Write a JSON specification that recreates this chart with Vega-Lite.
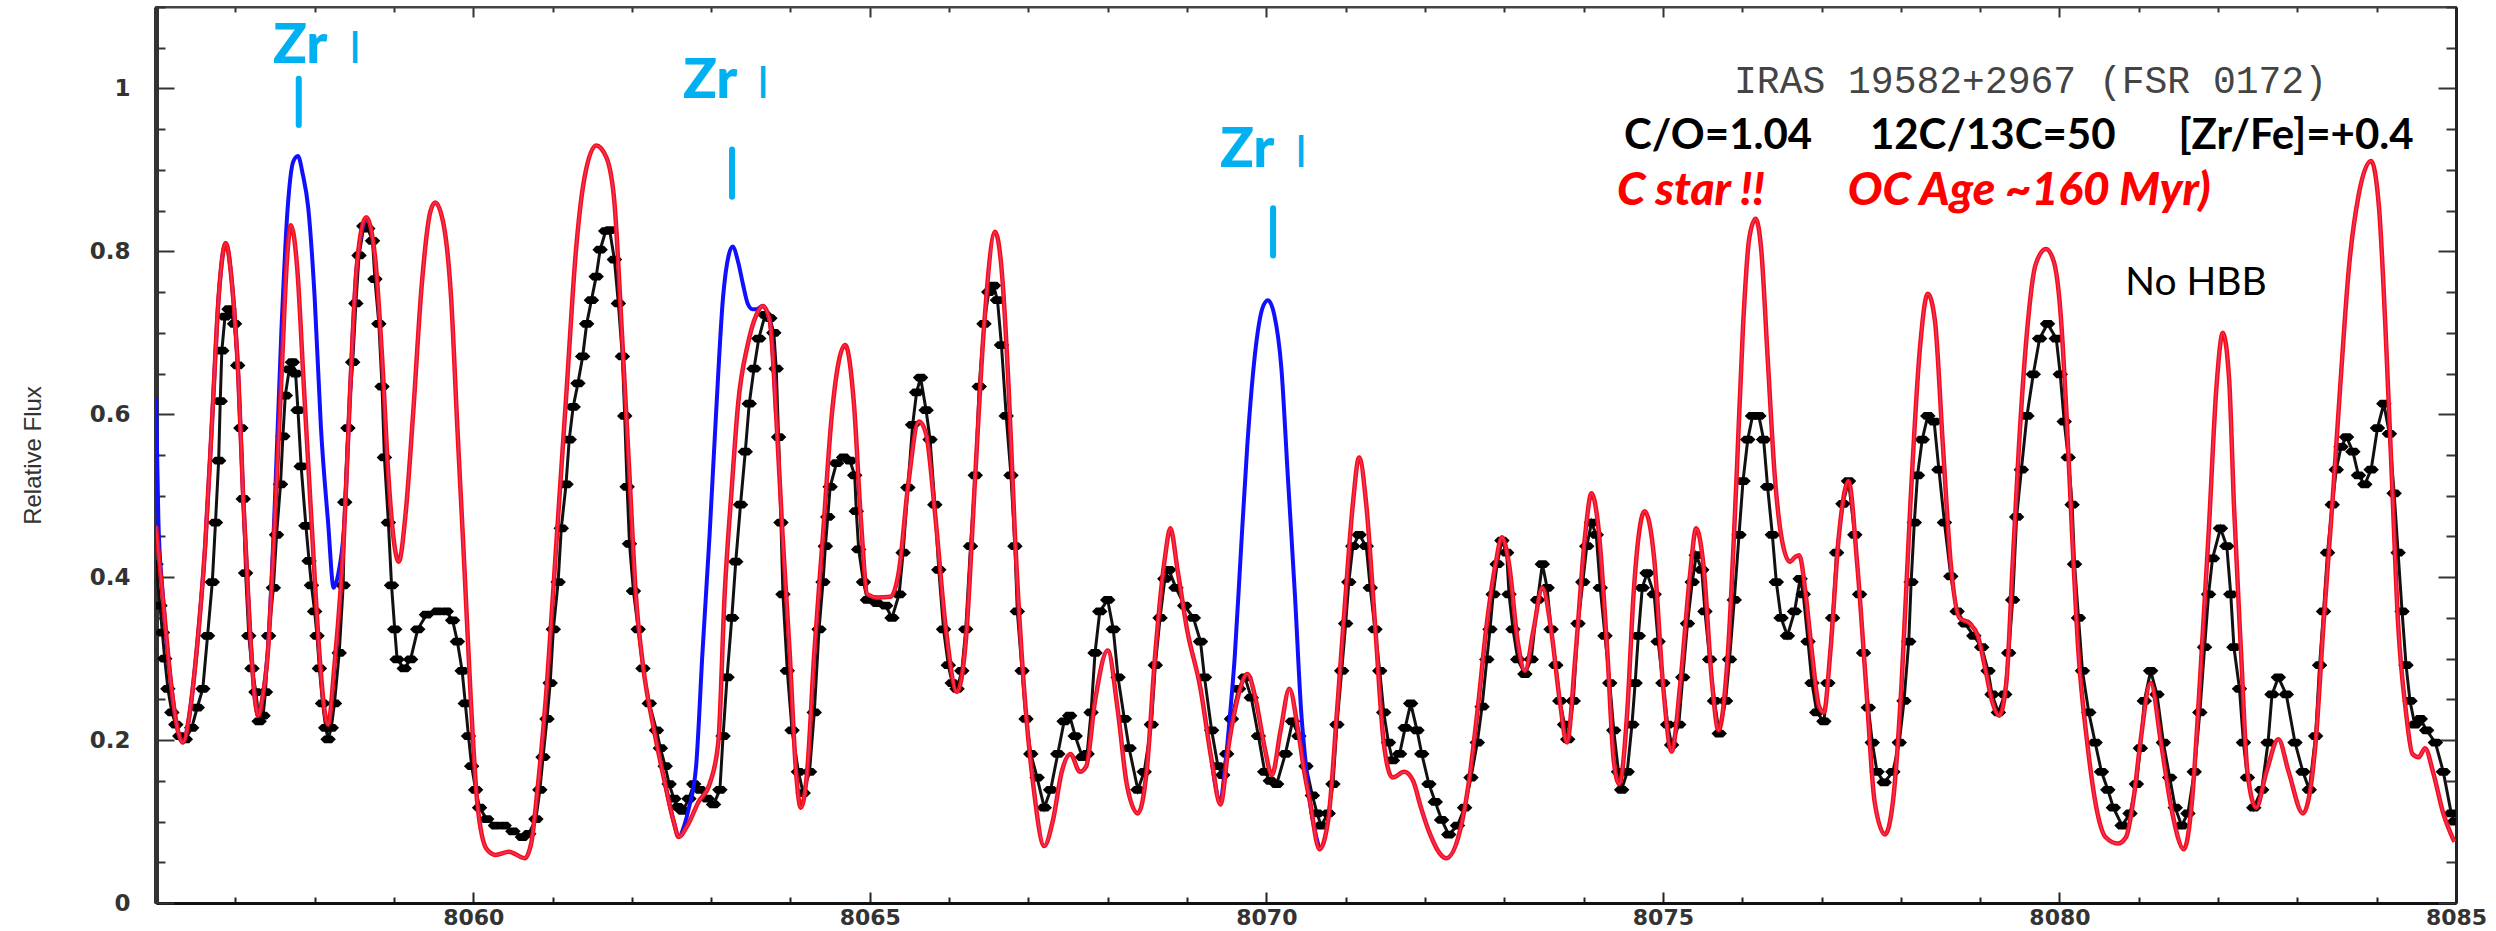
{
  "$schema": "https://vega.github.io/schema/vega-lite/v6.json",
  "width": 2300,
  "height": 896,
  "autosize": {"type": "none"},
  "padding": {"left": 156, "top": 7, "right": 40, "bottom": 28},
  "background": "white",
  "view": {"stroke": "#444", "strokeWidth": 2},
  "datasets": {
    "obs": [
      {"w":8056.00,"f":0.416},{"w":8056.05,"f":0.365},{"w":8056.08,"f":0.332},{"w":8056.11,"f":0.300},{"w":8056.15,"f":0.263},{"w":8056.20,"f":0.234},{"w":8056.25,"f":0.219},{"w":8056.30,"f":0.205},{"w":8056.37,"f":0.201},{"w":8056.45,"f":0.215},{"w":8056.52,"f":0.240},{"w":8056.59,"f":0.263},{"w":8056.65,"f":0.328},{"w":8056.71,"f":0.394},{"w":8056.75,"f":0.467},{"w":8056.79,"f":0.543},{"w":8056.81,"f":0.616},{"w":8056.83,"f":0.678},{"w":8056.87,"f":0.720},{"w":8056.92,"f":0.729},{"w":8056.99,"f":0.711},{"w":8057.03,"f":0.660},{"w":8057.07,"f":0.583},{"w":8057.10,"f":0.496},{"w":8057.13,"f":0.405},{"w":8057.17,"f":0.328},{"w":8057.21,"f":0.288},{"w":8057.26,"f":0.259},{"w":8057.30,"f":0.223},{"w":8057.35,"f":0.230},{"w":8057.38,"f":0.259},{"w":8057.42,"f":0.328},{"w":8057.48,"f":0.387},{"w":8057.52,"f":0.452},{"w":8057.57,"f":0.514},{"w":8057.60,"f":0.573},{"w":8057.63,"f":0.623},{"w":8057.68,"f":0.655},{"w":8057.72,"f":0.664},{"w":8057.76,"f":0.650},{"w":8057.79,"f":0.605},{"w":8057.83,"f":0.536},{"w":8057.89,"f":0.463},{"w":8057.93,"f":0.420},{"w":8057.96,"f":0.390},{"w":8058.00,"f":0.358},{"w":8058.03,"f":0.328},{"w":8058.06,"f":0.288},{"w":8058.10,"f":0.245},{"w":8058.14,"f":0.215},{"w":8058.17,"f":0.201},{"w":8058.21,"f":0.215},{"w":8058.25,"f":0.245},{"w":8058.31,"f":0.307},{"w":8058.36,"f":0.390},{"w":8058.38,"f":0.492},{"w":8058.42,"f":0.583},{"w":8058.48,"f":0.664},{"w":8058.52,"f":0.736},{"w":8058.56,"f":0.795},{"w":8058.62,"f":0.831},{"w":8058.67,"f":0.828},{"w":8058.73,"f":0.813},{"w":8058.76,"f":0.766},{"w":8058.81,"f":0.711},{"w":8058.85,"f":0.634},{"w":8058.88,"f":0.547},{"w":8058.93,"f":0.467},{"w":8058.97,"f":0.390},{"w":8059.01,"f":0.336},{"w":8059.04,"f":0.299},{"w":8059.13,"f":0.288},{"w":8059.21,"f":0.299},{"w":8059.30,"f":0.336},{"w":8059.41,"f":0.354},{"w":8059.55,"f":0.358},{"w":8059.66,"f":0.358},{"w":8059.74,"f":0.347},{"w":8059.80,"f":0.321},{"w":8059.86,"f":0.285},{"w":8059.90,"f":0.245},{"w":8059.94,"f":0.205},{"w":8059.98,"f":0.168},{"w":8060.03,"f":0.139},{"w":8060.08,"f":0.117},{"w":8060.17,"f":0.103},{"w":8060.28,"f":0.095},{"w":8060.39,"f":0.095},{"w":8060.50,"f":0.088},{"w":8060.62,"f":0.081},{"w":8060.70,"f":0.085},{"w":8060.79,"f":0.103},{"w":8060.84,"f":0.139},{"w":8060.88,"f":0.179},{"w":8060.93,"f":0.226},{"w":8060.97,"f":0.270},{"w":8061.01,"f":0.336},{"w":8061.07,"f":0.394},{"w":8061.11,"f":0.460},{"w":8061.17,"f":0.514},{"w":8061.21,"f":0.569},{"w":8061.26,"f":0.609},{"w":8061.32,"f":0.638},{"w":8061.38,"f":0.671},{"w":8061.43,"f":0.711},{"w":8061.49,"f":0.740},{"w":8061.55,"f":0.769},{"w":8061.60,"f":0.802},{"w":8061.67,"f":0.825},{"w":8061.72,"f":0.826},{"w":8061.78,"f":0.790},{"w":8061.83,"f":0.736},{"w":8061.88,"f":0.671},{"w":8061.91,"f":0.598},{"w":8061.94,"f":0.511},{"w":8061.97,"f":0.441},{"w":8062.02,"f":0.383},{"w":8062.08,"f":0.336},{"w":8062.14,"f":0.288},{"w":8062.22,"f":0.245},{"w":8062.31,"f":0.212},{"w":8062.36,"f":0.190},{"w":8062.42,"f":0.168},{"w":8062.47,"f":0.146},{"w":8062.53,"f":0.128},{"w":8062.58,"f":0.118},{"w":8062.64,"f":0.113},{"w":8062.72,"f":0.128},{"w":8062.78,"f":0.146},{"w":8062.86,"f":0.139},{"w":8062.95,"f":0.128},{"w":8063.03,"f":0.121},{"w":8063.11,"f":0.139},{"w":8063.15,"f":0.205},{"w":8063.20,"f":0.277},{"w":8063.26,"f":0.350},{"w":8063.31,"f":0.419},{"w":8063.37,"f":0.489},{"w":8063.43,"f":0.554},{"w":8063.48,"f":0.613},{"w":8063.54,"f":0.656},{"w":8063.60,"f":0.693},{"w":8063.68,"f":0.722},{"w":8063.74,"f":0.718},{"w":8063.79,"f":0.700},{"w":8063.82,"f":0.656},{"w":8063.85,"f":0.572},{"w":8063.88,"f":0.467},{"w":8063.905,"f":0.379},{"w":8063.96,"f":0.285},{"w":8064.02,"f":0.212},{"w":8064.10,"f":0.161},{"w":8064.16,"f":0.135},{"w":8064.24,"f":0.161},{"w":8064.30,"f":0.234},{"w":8064.36,"f":0.336},{"w":8064.41,"f":0.394},{"w":8064.44,"f":0.438},{"w":8064.47,"f":0.474},{"w":8064.50,"f":0.511},{"w":8064.58,"f":0.540},{"w":8064.67,"f":0.547},{"w":8064.75,"f":0.543},{"w":8064.81,"f":0.525},{"w":8064.83,"f":0.481},{"w":8064.86,"f":0.434},{"w":8064.92,"f":0.394},{"w":8064.97,"f":0.372},{"w":8065.09,"f":0.368},{"w":8065.20,"f":0.365},{"w":8065.28,"f":0.350},{"w":8065.37,"f":0.379},{"w":8065.42,"f":0.430},{"w":8065.48,"f":0.510},{"w":8065.54,"f":0.587},{"w":8065.59,"f":0.627},{"w":8065.64,"f":0.645},{"w":8065.71,"f":0.605},{"w":8065.76,"f":0.569},{"w":8065.82,"f":0.489},{"w":8065.87,"f":0.409},{"w":8065.93,"f":0.336},{"w":8065.99,"f":0.292},{"w":8066.04,"f":0.270},{"w":8066.10,"f":0.263},{"w":8066.16,"f":0.285},{"w":8066.21,"f":0.336},{"w":8066.27,"f":0.438},{"w":8066.33,"f":0.525},{"w":8066.38,"f":0.634},{"w":8066.44,"f":0.711},{"w":8066.50,"f":0.750},{"w":8066.56,"f":0.758},{"w":8066.61,"f":0.740},{"w":8066.66,"f":0.685},{"w":8066.72,"f":0.598},{"w":8066.78,"f":0.525},{"w":8066.83,"f":0.438},{"w":8066.86,"f":0.358},{"w":8066.92,"f":0.285},{"w":8066.97,"f":0.226},{"w":8067.03,"f":0.183},{"w":8067.11,"f":0.154},{"w":8067.20,"f":0.117},{"w":8067.28,"f":0.139},{"w":8067.37,"f":0.183},{"w":8067.45,"f":0.223},{"w":8067.52,"f":0.230},{"w":8067.59,"f":0.205},{"w":8067.68,"f":0.179},{"w":8067.74,"f":0.183},{"w":8067.79,"f":0.234},{"w":8067.84,"f":0.307},{"w":8067.90,"f":0.358},{"w":8068.00,"f":0.372},{"w":8068.07,"f":0.336},{"w":8068.13,"f":0.277},{"w":8068.21,"f":0.226},{"w":8068.27,"f":0.190},{"w":8068.38,"f":0.139},{"w":8068.46,"f":0.161},{"w":8068.55,"f":0.219},{"w":8068.60,"f":0.292},{"w":8068.66,"f":0.350},{"w":8068.72,"f":0.398},{"w":8068.77,"f":0.409},{"w":8068.86,"f":0.387},{"w":8068.97,"f":0.365},{"w":8069.08,"f":0.350},{"w":8069.17,"f":0.321},{"w":8069.22,"f":0.277},{"w":8069.31,"f":0.212},{"w":8069.39,"f":0.168},{"w":8069.45,"f":0.157},{"w":8069.50,"f":0.183},{"w":8069.56,"f":0.226},{"w":8069.65,"f":0.263},{"w":8069.73,"f":0.277},{"w":8069.81,"f":0.252},{"w":8069.90,"f":0.205},{"w":8069.98,"f":0.161},{"w":8070.05,"f":0.150},{"w":8070.13,"f":0.146},{"w":8070.24,"f":0.183},{"w":8070.33,"f":0.223},{"w":8070.41,"f":0.205},{"w":8070.50,"f":0.168},{"w":8070.58,"f":0.132},{"w":8070.64,"f":0.110},{"w":8070.69,"f":0.095},{"w":8070.78,"f":0.110},{"w":8070.84,"f":0.146},{"w":8070.89,"f":0.219},{"w":8070.95,"f":0.285},{"w":8071.00,"f":0.343},{"w":8071.04,"f":0.394},{"w":8071.09,"f":0.438},{"w":8071.17,"f":0.452},{"w":8071.26,"f":0.438},{"w":8071.31,"f":0.387},{"w":8071.37,"f":0.336},{"w":8071.43,"f":0.285},{"w":8071.48,"f":0.234},{"w":8071.54,"f":0.197},{"w":8071.59,"f":0.175},{"w":8071.68,"f":0.183},{"w":8071.75,"f":0.215},{"w":8071.82,"f":0.245},{"w":8071.90,"f":0.212},{"w":8071.96,"f":0.183},{"w":8072.05,"f":0.146},{"w":8072.13,"f":0.124},{"w":8072.21,"f":0.102},{"w":8072.30,"f":0.084},{"w":8072.41,"f":0.095},{"w":8072.50,"f":0.117},{"w":8072.58,"f":0.154},{"w":8072.66,"f":0.197},{"w":8072.72,"f":0.241},{"w":8072.78,"f":0.299},{"w":8072.82,"f":0.336},{"w":8072.86,"f":0.379},{"w":8072.91,"f":0.416},{"w":8072.97,"f":0.445},{"w":8073.03,"f":0.430},{"w":8073.06,"f":0.379},{"w":8073.11,"f":0.336},{"w":8073.17,"f":0.299},{"w":8073.26,"f":0.281},{"w":8073.34,"f":0.299},{"w":8073.42,"f":0.372},{"w":8073.48,"f":0.416},{"w":8073.54,"f":0.387},{"w":8073.59,"f":0.336},{"w":8073.65,"f":0.292},{"w":8073.70,"f":0.248},{"w":8073.76,"f":0.219},{"w":8073.80,"f":0.201},{"w":8073.87,"f":0.248},{"w":8073.93,"f":0.343},{"w":8073.99,"f":0.394},{"w":8074.04,"f":0.438},{"w":8074.10,"f":0.467},{"w":8074.16,"f":0.452},{"w":8074.21,"f":0.387},{"w":8074.27,"f":0.328},{"w":8074.33,"f":0.270},{"w":8074.38,"f":0.212},{"w":8074.44,"f":0.161},{"w":8074.48,"f":0.139},{"w":8074.55,"f":0.161},{"w":8074.61,"f":0.219},{"w":8074.65,"f":0.270},{"w":8074.69,"f":0.328},{"w":8074.74,"f":0.387},{"w":8074.80,"f":0.405},{"w":8074.89,"f":0.379},{"w":8074.94,"f":0.321},{"w":8075.00,"f":0.270},{"w":8075.06,"f":0.219},{"w":8075.11,"f":0.194},{"w":8075.20,"f":0.219},{"w":8075.25,"f":0.277},{"w":8075.31,"f":0.343},{"w":8075.37,"f":0.394},{"w":8075.42,"f":0.427},{"w":8075.49,"f":0.409},{"w":8075.53,"f":0.358},{"w":8075.59,"f":0.299},{"w":8075.65,"f":0.248},{"w":8075.71,"f":0.208},{"w":8075.79,"f":0.248},{"w":8075.84,"f":0.299},{"w":8075.90,"f":0.372},{"w":8075.96,"f":0.452},{"w":8076.01,"f":0.518},{"w":8076.07,"f":0.569},{"w":8076.13,"f":0.598},{"w":8076.21,"f":0.598},{"w":8076.27,"f":0.569},{"w":8076.32,"f":0.511},{"w":8076.38,"f":0.452},{"w":8076.43,"f":0.394},{"w":8076.49,"f":0.350},{"w":8076.57,"f":0.328},{"w":8076.66,"f":0.358},{"w":8076.73,"f":0.398},{"w":8076.77,"f":0.379},{"w":8076.83,"f":0.321},{"w":8076.88,"f":0.270},{"w":8076.94,"f":0.234},{"w":8077.03,"f":0.223},{"w":8077.08,"f":0.270},{"w":8077.14,"f":0.350},{"w":8077.19,"f":0.430},{"w":8077.27,"f":0.490},{"w":8077.34,"f":0.518},{"w":8077.42,"f":0.452},{"w":8077.48,"f":0.379},{"w":8077.53,"f":0.307},{"w":8077.59,"f":0.240},{"w":8077.64,"f":0.197},{"w":8077.70,"f":0.161},{"w":8077.79,"f":0.148},{"w":8077.90,"f":0.161},{"w":8077.98,"f":0.197},{"w":8078.04,"f":0.248},{"w":8078.10,"f":0.321},{"w":8078.13,"f":0.394},{"w":8078.17,"f":0.467},{"w":8078.21,"f":0.525},{"w":8078.27,"f":0.569},{"w":8078.34,"f":0.598},{"w":8078.42,"f":0.591},{"w":8078.48,"f":0.532},{"w":8078.55,"f":0.467},{"w":8078.63,"f":0.401},{"w":8078.71,"f":0.358},{"w":8078.81,"f":0.343},{"w":8078.92,"f":0.328},{"w":8079.02,"f":0.314},{"w":8079.10,"f":0.285},{"w":8079.15,"f":0.256},{"w":8079.23,"f":0.234},{"w":8079.31,"f":0.256},{"w":8079.36,"f":0.307},{"w":8079.41,"f":0.372},{"w":8079.46,"f":0.474},{"w":8079.52,"f":0.532},{"w":8079.59,"f":0.598},{"w":8079.67,"f":0.649},{"w":8079.75,"f":0.693},{"w":8079.85,"f":0.711},{"w":8079.96,"f":0.693},{"w":8080.01,"f":0.649},{"w":8080.06,"f":0.591},{"w":8080.11,"f":0.547},{"w":8080.16,"f":0.489},{"w":8080.19,"f":0.416},{"w":8080.24,"f":0.350},{"w":8080.29,"f":0.285},{"w":8080.37,"f":0.234},{"w":8080.45,"f":0.197},{"w":8080.53,"f":0.161},{"w":8080.61,"f":0.139},{"w":8080.68,"f":0.117},{"w":8080.79,"f":0.095},{"w":8080.89,"f":0.110},{"w":8080.97,"f":0.146},{"w":8081.02,"f":0.190},{"w":8081.07,"f":0.248},{"w":8081.15,"f":0.285},{"w":8081.23,"f":0.256},{"w":8081.31,"f":0.197},{"w":8081.39,"f":0.154},{"w":8081.46,"f":0.117},{"w":8081.54,"f":0.095},{"w":8081.62,"f":0.110},{"w":8081.70,"f":0.161},{"w":8081.77,"f":0.234},{"w":8081.83,"f":0.314},{"w":8081.88,"f":0.379},{"w":8081.93,"f":0.423},{"w":8082.03,"f":0.460},{"w":8082.11,"f":0.438},{"w":8082.16,"f":0.379},{"w":8082.20,"f":0.314},{"w":8082.27,"f":0.263},{"w":8082.32,"f":0.197},{"w":8082.37,"f":0.154},{"w":8082.45,"f":0.117},{"w":8082.55,"f":0.139},{"w":8082.63,"f":0.197},{"w":8082.68,"f":0.256},{"w":8082.76,"f":0.277},{"w":8082.86,"f":0.256},{"w":8082.97,"f":0.197},{"w":8083.07,"f":0.161},{"w":8083.15,"f":0.139},{"w":8083.23,"f":0.205},{"w":8083.28,"f":0.292},{"w":8083.33,"f":0.358},{"w":8083.38,"f":0.430},{"w":8083.44,"f":0.489},{"w":8083.49,"f":0.532},{"w":8083.55,"f":0.560},{"w":8083.62,"f":0.572},{"w":8083.70,"f":0.554},{"w":8083.77,"f":0.525},{"w":8083.85,"f":0.514},{"w":8083.93,"f":0.532},{"w":8084.01,"f":0.583},{"w":8084.09,"f":0.613},{"w":8084.16,"f":0.576},{"w":8084.22,"f":0.503},{"w":8084.27,"f":0.430},{"w":8084.32,"f":0.358},{"w":8084.37,"f":0.292},{"w":8084.42,"f":0.248},{"w":8084.48,"f":0.219},{"w":8084.55,"f":0.226},{"w":8084.63,"f":0.212},{"w":8084.74,"f":0.197},{"w":8084.84,"f":0.161},{"w":8084.94,"f":0.110},{"w":8084.98,"f":0.100}
    ],
    "syn": [
      {"w":8056.00,"f":0.463},{"w":8056.10,"f":0.360},{"w":8056.20,"f":0.260},{"w":8056.28,"f":0.210},{"w":8056.34,"f":0.197},{"w":8056.42,"f":0.230},{"w":8056.51,"f":0.307},{"w":8056.62,"f":0.438},{"w":8056.71,"f":0.598},{"w":8056.79,"f":0.744},{"w":8056.88,"f":0.810},{"w":8056.96,"f":0.758},{"w":8057.04,"f":0.642},{"w":8057.10,"f":0.496},{"w":8057.18,"f":0.343},{"w":8057.25,"f":0.248},{"w":8057.29,"f":0.230},{"w":8057.34,"f":0.250},{"w":8057.41,"f":0.307},{"w":8057.49,"f":0.452},{"w":8057.58,"f":0.642},{"w":8057.66,"f":0.802},{"w":8057.70,"f":0.832},{"w":8057.78,"f":0.780},{"w":8057.86,"f":0.642},{"w":8057.97,"f":0.452},{"w":8058.06,"f":0.307},{"w":8058.12,"f":0.240},{"w":8058.17,"f":0.219},{"w":8058.25,"f":0.292},{"w":8058.37,"f":0.452},{"w":8058.45,"f":0.634},{"w":8058.53,"f":0.780},{"w":8058.65,"f":0.842},{"w":8058.76,"f":0.795},{"w":8058.85,"f":0.671},{"w":8058.93,"f":0.525},{"w":8058.99,"f":0.452},{"w":8059.06,"f":0.419},{"w":8059.15,"f":0.481},{"w":8059.24,"f":0.598},{"w":8059.35,"f":0.758},{"w":8059.46,"f":0.849},{"w":8059.52,"f":0.860},{"w":8059.63,"f":0.831},{"w":8059.72,"f":0.744},{"w":8059.80,"f":0.583},{"w":8059.89,"f":0.409},{"w":8059.97,"f":0.248},{"w":8060.05,"f":0.124},{"w":8060.17,"f":0.066},{"w":8060.28,"f":0.059},{"w":8060.45,"f":0.063},{"w":8060.65,"f":0.055},{"w":8060.73,"f":0.073},{"w":8060.81,"f":0.139},{"w":8060.93,"f":0.270},{"w":8061.04,"f":0.430},{"w":8061.18,"f":0.634},{"w":8061.29,"f":0.795},{"w":8061.40,"f":0.889},{"w":8061.55,"f":0.930},{"w":8061.68,"f":0.915},{"w":8061.78,"f":0.860},{"w":8061.88,"f":0.690},{"w":8061.97,"f":0.525},{"w":8062.05,"f":0.379},{"w":8062.14,"f":0.292},{"w":8062.28,"f":0.212},{"w":8062.42,"f":0.146},{"w":8062.53,"f":0.099},{"w":8062.59,"f":0.081},{"w":8062.70,"f":0.095},{"w":8062.84,"f":0.124},{"w":8062.98,"f":0.146},{"w":8063.09,"f":0.197},{"w":8063.17,"f":0.379},{"w":8063.26,"f":0.510},{"w":8063.34,"f":0.613},{"w":8063.46,"f":0.685},{"w":8063.57,"f":0.722},{"w":8063.65,"f":0.733},{"w":8063.74,"f":0.714},{"w":8063.82,"f":0.598},{"w":8063.90,"f":0.452},{"w":8063.99,"f":0.307},{"w":8064.07,"f":0.161},{"w":8064.13,"f":0.117},{"w":8064.21,"f":0.161},{"w":8064.30,"f":0.307},{"w":8064.41,"f":0.452},{"w":8064.52,"f":0.598},{"w":8064.69,"f":0.685},{"w":8064.80,"f":0.613},{"w":8064.89,"f":0.467},{"w":8064.97,"f":0.379},{"w":8065.10,"f":0.375},{"w":8065.26,"f":0.376},{"w":8065.37,"f":0.409},{"w":8065.48,"f":0.510},{"w":8065.62,"f":0.591},{"w":8065.71,"f":0.576},{"w":8065.82,"f":0.481},{"w":8065.96,"f":0.336},{"w":8066.10,"f":0.259},{"w":8066.21,"f":0.321},{"w":8066.33,"f":0.525},{"w":8066.44,"f":0.707},{"w":8066.58,"f":0.824},{"w":8066.66,"f":0.780},{"w":8066.75,"f":0.634},{"w":8066.83,"f":0.452},{"w":8066.94,"f":0.270},{"w":8067.06,"f":0.146},{"w":8067.20,"f":0.070},{"w":8067.31,"f":0.102},{"w":8067.42,"f":0.161},{"w":8067.53,"f":0.183},{"w":8067.65,"f":0.161},{"w":8067.73,"f":0.168},{"w":8067.84,"f":0.248},{"w":8068.00,"f":0.310},{"w":8068.13,"f":0.234},{"w":8068.24,"f":0.146},{"w":8068.38,"f":0.110},{"w":8068.49,"f":0.161},{"w":8068.60,"f":0.307},{"w":8068.72,"f":0.423},{"w":8068.79,"f":0.460},{"w":8068.88,"f":0.409},{"w":8069.00,"f":0.336},{"w":8069.17,"f":0.263},{"w":8069.31,"f":0.175},{"w":8069.42,"f":0.121},{"w":8069.53,"f":0.197},{"w":8069.65,"f":0.256},{"w":8069.76,"f":0.281},{"w":8069.87,"f":0.248},{"w":8069.98,"f":0.190},{"w":8070.07,"f":0.157},{"w":8070.18,"f":0.212},{"w":8070.29,"f":0.263},{"w":8070.40,"f":0.212},{"w":8070.48,"f":0.160},{"w":8070.55,"f":0.124},{"w":8070.67,"f":0.066},{"w":8070.78,"f":0.102},{"w":8070.89,"f":0.234},{"w":8071.00,"f":0.379},{"w":8071.09,"f":0.489},{"w":8071.17,"f":0.547},{"w":8071.26,"f":0.489},{"w":8071.37,"f":0.343},{"w":8071.48,"f":0.197},{"w":8071.59,"f":0.154},{"w":8071.74,"f":0.161},{"w":8071.85,"f":0.150},{"w":8071.95,"f":0.117},{"w":8072.05,"f":0.088},{"w":8072.27,"f":0.055},{"w":8072.44,"f":0.088},{"w":8072.55,"f":0.146},{"w":8072.66,"f":0.234},{"w":8072.78,"f":0.343},{"w":8072.89,"f":0.416},{"w":8072.97,"f":0.449},{"w":8073.06,"f":0.416},{"w":8073.17,"f":0.321},{"w":8073.26,"f":0.285},{"w":8073.37,"f":0.336},{"w":8073.48,"f":0.387},{"w":8073.59,"f":0.336},{"w":8073.70,"f":0.248},{"w":8073.79,"f":0.197},{"w":8073.90,"f":0.307},{"w":8074.02,"f":0.452},{"w":8074.10,"f":0.503},{"w":8074.18,"f":0.467},{"w":8074.30,"f":0.307},{"w":8074.38,"f":0.175},{"w":8074.45,"f":0.146},{"w":8074.55,"f":0.234},{"w":8074.63,"f":0.379},{"w":8074.77,"f":0.481},{"w":8074.89,"f":0.423},{"w":8075.00,"f":0.270},{"w":8075.11,"f":0.186},{"w":8075.22,"f":0.270},{"w":8075.34,"f":0.401},{"w":8075.42,"f":0.460},{"w":8075.51,"f":0.416},{"w":8075.62,"f":0.270},{"w":8075.70,"f":0.212},{"w":8075.82,"f":0.307},{"w":8075.93,"f":0.525},{"w":8076.01,"f":0.707},{"w":8076.09,"f":0.817},{"w":8076.17,"f":0.840},{"w":8076.24,"f":0.802},{"w":8076.32,"f":0.671},{"w":8076.41,"f":0.525},{"w":8076.49,"f":0.452},{"w":8076.60,"f":0.419},{"w":8076.67,"f":0.425},{"w":8076.72,"f":0.427},{"w":8076.80,"f":0.379},{"w":8076.88,"f":0.307},{"w":8076.97,"f":0.241},{"w":8077.03,"f":0.234},{"w":8077.11,"f":0.307},{"w":8077.22,"f":0.452},{"w":8077.34,"f":0.518},{"w":8077.45,"f":0.416},{"w":8077.56,"f":0.270},{"w":8077.67,"f":0.124},{"w":8077.80,"f":0.084},{"w":8077.90,"f":0.124},{"w":8078.01,"f":0.270},{"w":8078.12,"f":0.489},{"w":8078.24,"f":0.680},{"w":8078.34,"f":0.748},{"w":8078.43,"f":0.715},{"w":8078.53,"f":0.562},{"w":8078.63,"f":0.416},{"w":8078.74,"f":0.350},{"w":8078.87,"f":0.343},{"w":8078.97,"f":0.328},{"w":8079.07,"f":0.285},{"w":8079.15,"f":0.248},{"w":8079.24,"f":0.230},{"w":8079.33,"f":0.270},{"w":8079.41,"f":0.416},{"w":8079.49,"f":0.562},{"w":8079.59,"f":0.700},{"w":8079.70,"f":0.784},{"w":8079.83,"f":0.803},{"w":8079.93,"f":0.787},{"w":8080.01,"f":0.729},{"w":8080.09,"f":0.598},{"w":8080.16,"f":0.452},{"w":8080.24,"f":0.307},{"w":8080.35,"f":0.197},{"w":8080.48,"f":0.110},{"w":8080.58,"f":0.081},{"w":8080.74,"f":0.073},{"w":8080.84,"f":0.081},{"w":8080.94,"f":0.132},{"w":8081.02,"f":0.197},{"w":8081.15,"f":0.270},{"w":8081.28,"f":0.197},{"w":8081.41,"f":0.117},{"w":8081.57,"f":0.066},{"w":8081.67,"f":0.124},{"w":8081.77,"f":0.270},{"w":8081.88,"f":0.452},{"w":8081.98,"f":0.634},{"w":8082.06,"f":0.700},{"w":8082.14,"f":0.642},{"w":8082.20,"f":0.489},{"w":8082.29,"f":0.307},{"w":8082.37,"f":0.161},{"w":8082.48,"f":0.117},{"w":8082.61,"f":0.161},{"w":8082.76,"f":0.201},{"w":8082.89,"f":0.161},{"w":8083.07,"f":0.110},{"w":8083.23,"f":0.197},{"w":8083.33,"f":0.343},{"w":8083.44,"f":0.489},{"w":8083.54,"f":0.634},{"w":8083.65,"f":0.780},{"w":8083.77,"f":0.868},{"w":8083.93,"f":0.911},{"w":8084.03,"f":0.853},{"w":8084.11,"f":0.707},{"w":8084.19,"f":0.525},{"w":8084.27,"f":0.343},{"w":8084.37,"f":0.234},{"w":8084.45,"f":0.183},{"w":8084.53,"f":0.179},{"w":8084.61,"f":0.190},{"w":8084.71,"f":0.161},{"w":8084.84,"f":0.110},{"w":8084.98,"f":0.075}
    ],
    "zr1": [
      {"w":8056.00,"f":0.620},{"w":8056.03,"f":0.470},{"w":8056.08,"f":0.385},{"w":8056.20,"f":0.260},{"w":8056.28,"f":0.210},{"w":8056.34,"f":0.197},{"w":8056.42,"f":0.230},{"w":8056.51,"f":0.307},{"w":8056.62,"f":0.438},{"w":8056.71,"f":0.598},{"w":8056.79,"f":0.744},{"w":8056.88,"f":0.810},{"w":8056.96,"f":0.758},{"w":8057.04,"f":0.642},{"w":8057.10,"f":0.496},{"w":8057.18,"f":0.343},{"w":8057.25,"f":0.248},{"w":8057.29,"f":0.230},{"w":8057.34,"f":0.250},{"w":8057.41,"f":0.310},{"w":8057.49,"f":0.470},{"w":8057.58,"f":0.700},{"w":8057.66,"f":0.853},{"w":8057.73,"f":0.910},{"w":8057.79,"f":0.917},{"w":8057.85,"f":0.895},{"w":8057.92,"f":0.853},{"w":8058.00,"f":0.744},{"w":8058.08,"f":0.583},{"w":8058.17,"f":0.467},{"w":8058.24,"f":0.387},{"w":8058.30,"f":0.405},{"w":8058.37,"f":0.460},{"w":8058.45,"f":0.634},{"w":8058.53,"f":0.780},{"w":8058.65,"f":0.842}
    ],
    "zr2": [
      {"w":8062.42,"f":0.146},{"w":8062.53,"f":0.099},{"w":8062.59,"f":0.081},{"w":8062.66,"f":0.095},{"w":8062.72,"f":0.117},{"w":8062.81,"f":0.168},{"w":8062.89,"f":0.307},{"w":8062.98,"f":0.452},{"w":8063.06,"f":0.598},{"w":8063.15,"f":0.744},{"w":8063.22,"f":0.795},{"w":8063.27,"f":0.806},{"w":8063.34,"f":0.787},{"w":8063.40,"f":0.760},{"w":8063.46,"f":0.736},{"w":8063.52,"f":0.729},{"w":8063.57,"f":0.729},{"w":8063.65,"f":0.733},{"w":8063.74,"f":0.714},{"w":8063.82,"f":0.598}
    ],
    "zr3": [
      {"w":8069.31,"f":0.175},{"w":8069.42,"f":0.125},{"w":8069.48,"f":0.168},{"w":8069.55,"f":0.240},{"w":8069.60,"f":0.300},{"w":8069.67,"f":0.416},{"w":8069.76,"f":0.562},{"w":8069.87,"f":0.685},{"w":8069.95,"f":0.730},{"w":8070.02,"f":0.740},{"w":8070.10,"f":0.722},{"w":8070.19,"f":0.656},{"w":8070.27,"f":0.525},{"w":8070.36,"f":0.379},{"w":8070.44,"f":0.234},{"w":8070.50,"f":0.168},{"w":8070.55,"f":0.124},{"w":8070.67,"f":0.066}
    ],
    "zrlab": [
      {"w":8057.475,"f":1.031,"t":"Zr"},
      {"w":8062.645,"f":0.988,"t":"Zr"},
      {"w":8069.416,"f":0.904,"t":"Zr"}
    ],
    "zrion": [
      {"w":8058.51,"f":1.031,"t":"I"},
      {"w":8063.654,"f":0.988,"t":"I"},
      {"w":8070.437,"f":0.904,"t":"I"}
    ],
    "zrtick": [
      {"w":8057.80,"f":0.955,"f2":1.012},
      {"w":8063.263,"f":0.867,"f2":0.925},
      {"w":8070.085,"f":0.795,"f2":0.853}
    ],
    "star": [{"w":8079.635,"f":0.995,"t":"IRAS 19582+2967 (FSR 0172)"}],
    "params": [
      {"w":8074.51,"f":0.926,"t":"C/O=1.04"},
      {"w":8077.61,"f":0.926,"t":"12C/13C=50"},
      {"w":8081.50,"f":0.926,"t":"[Zr/Fe]=+0.4"}
    ],
    "rednotes": [
      {"w":8074.42,"f":0.857,"t":"C star !!"},
      {"w":8077.33,"f":0.857,"t":"OC Age ~160 Myr)"}
    ],
    "hbb": [{"w":8080.83,"f":0.746,"t":"No HBB"}]
  },
  "encoding": {
    "x": {"field": "w", "type": "quantitative", "scale": {"domain": [8056, 8085], "nice": false, "zero": false}, "axis": null},
    "y": {"field": "f", "type": "quantitative", "scale": {"domain": [0, 1.1], "nice": false, "zero": false}, "axis": null}
  },
  "resolve": {"axis": {"x": "independent", "y": "independent"}},
  "layer": [
    {
      "data": {"name": "obs"},
      "mark": {"type": "line", "color": "#111", "strokeWidth": 3, "clip": true},
      "encoding": {}
    },
    {
      "data": {"name": "obs"},
      "mark": {"type": "point", "shape": "M-1,0L-0.5,-0.5L0.5,-0.5L1,0L0.5,0.5L-0.5,0.5Z", "filled": true, "color": "#000", "size": 240, "opacity": 1, "clip": true},
      "encoding": {
        "x": {"field": "w", "type": "quantitative", "scale": {"domain": [8056, 8085], "nice": false, "zero": false},
          "axis": {
            "orient": "bottom", "title": null, "grid": false,
            "values": [8056,8057,8058,8059,8060,8061,8062,8063,8064,8065,8066,8067,8068,8069,8070,8071,8072,8073,8074,8075,8076,8077,8078,8079,8080,8081,8082,8083,8084,8085],
            "format": "d",
            "labelExpr": "datum.value % 5 === 0 ? datum.label : ''",
            "tickSize": {"condition": {"test": "datum.value % 5 === 0", "value": -11}, "value": -6},
            "tickWidth": 2, "tickColor": "#222",
            "domainColor": "#111", "domainWidth": 3,
            "labelFont": "DejaVu Sans", "labelFontSize": 22, "labelFontWeight": "bold", "labelColor": "#333",
            "labelPadding": 15, "labelFlush": false, "labelOverlap": false, "labelBound": false
          }},
        "y": {"field": "f", "type": "quantitative", "scale": {"domain": [0, 1.1], "nice": false, "zero": false},
          "axis": {
            "orient": "left", "grid": false,
            "title": "Relative Flux",
            "values": [0,0.05,0.1,0.15,0.2,0.25,0.3,0.35,0.4,0.45,0.5,0.55,0.6,0.65,0.7,0.75,0.8,0.85,0.9,0.95,1,1.05,1.1],
            "format": ".1~f",
            "labelExpr": "abs(datum.value * 5 - round(datum.value * 5)) < 0.001 && datum.value < 1.05 ? datum.label : ''",
            "tickSize": {"condition": {"test": "abs(datum.value * 5 - round(datum.value * 5)) < 0.001", "value": -18}, "value": -9},
            "tickWidth": 2, "tickColor": "#333",
            "domainColor": "#333", "domainWidth": 5,
            "labelFont": "DejaVu Sans", "labelFontSize": 23, "labelFontWeight": "bold", "labelColor": "#333",
            "labelPadding": 44, "labelOverlap": false, "labelBound": false, "labelFlush": false,
            "titleFont": "Liberation Sans", "titleFontSize": 24, "titleFontWeight": "normal", "titleColor": "#333",
            "titlePadding": 44
          }}
      }
    },
    {
      "data": {"name": "zr1"},
      "mark": {"type": "line", "color": "#1010ff", "strokeWidth": 4, "interpolate": "monotone", "clip": true},
      "encoding": {}
    },
    {
      "data": {"name": "zr2"},
      "mark": {"type": "line", "color": "#1010ff", "strokeWidth": 4, "interpolate": "monotone", "clip": true},
      "encoding": {}
    },
    {
      "data": {"name": "zr3"},
      "mark": {"type": "line", "color": "#1010ff", "strokeWidth": 4, "interpolate": "monotone", "clip": true},
      "encoding": {}
    },
    {
      "data": {"name": "syn"},
      "mark": {"type": "line", "color": "#ff0a0a", "strokeWidth": 4.5, "interpolate": "monotone", "clip": true},
      "encoding": {
        "x": {"field": "w", "type": "quantitative", "scale": {"domain": [8056, 8085], "nice": false, "zero": false},
          "axis": {
            "orient": "top", "title": null, "grid": false, "labels": false,
            "values": [8056,8057,8058,8059,8060,8061,8062,8063,8064,8065,8066,8067,8068,8069,8070,8071,8072,8073,8074,8075,8076,8077,8078,8079,8080,8081,8082,8083,8084,8085],
            "tickSize": {"condition": {"test": "datum.value % 5 === 0", "value": -10}, "value": -5},
            "tickWidth": 2, "tickColor": "#333", "domainColor": "#444", "domainWidth": 2
          }},
        "y": {"field": "f", "type": "quantitative", "scale": {"domain": [0, 1.1], "nice": false, "zero": false},
          "axis": {
            "orient": "right", "title": null, "grid": false, "labels": false,
            "values": [0,0.05,0.1,0.15,0.2,0.25,0.3,0.35,0.4,0.45,0.5,0.55,0.6,0.65,0.7,0.75,0.8,0.85,0.9,0.95,1,1.05,1.1],
            "tickSize": {"condition": {"test": "abs(datum.value * 5 - round(datum.value * 5)) < 0.001", "value": -18}, "value": -10},
            "tickWidth": 2, "tickColor": "#333", "domainColor": "#222", "domainWidth": 3
          }}
      }
    },
    {
      "data": {"name": "syn"},
      "mark": {"type": "line", "color": "#d8428c", "strokeWidth": 1.8, "opacity": 0.75, "interpolate": "monotone", "clip": true},
      "encoding": {}
    },
    {
      "data": {"name": "zrtick"},
      "mark": {"type": "rule", "color": "#00b0f0", "strokeWidth": 6, "strokeCap": "round"},
      "encoding": {"y2": {"field": "f2"}}
    },
    {
      "data": {"name": "zrlab"},
      "mark": {"type": "text", "align": "left", "baseline": "alphabetic", "font": "Lato", "fontWeight": 900, "fontSize": 56, "color": "#00b0f0"},
      "encoding": {"text": {"field": "t"}}
    },
    {
      "data": {"name": "zrion"},
      "mark": {"type": "text", "align": "center", "baseline": "alphabetic", "font": "Lato", "fontWeight": "normal", "fontSize": 45, "color": "#00b0f0"},
      "encoding": {"text": {"field": "t"}}
    },
    {
      "data": {"name": "star"},
      "mark": {"type": "text", "align": "center", "baseline": "alphabetic", "font": "Liberation Mono", "fontSize": 38, "color": "#444"},
      "encoding": {"text": {"field": "t"}}
    },
    {
      "data": {"name": "params"},
      "mark": {"type": "text", "align": "left", "baseline": "alphabetic", "font": "Lato", "fontWeight": "bold", "fontSize": 42, "color": "#000"},
      "encoding": {"text": {"field": "t"}}
    },
    {
      "data": {"name": "rednotes"},
      "mark": {"type": "text", "align": "left", "baseline": "alphabetic", "font": "Lato", "fontWeight": 900, "fontStyle": "italic", "fontSize": 46, "color": "#ff0000"},
      "encoding": {"text": {"field": "t"}}
    },
    {
      "data": {"name": "hbb"},
      "mark": {"type": "text", "align": "left", "baseline": "alphabetic", "font": "Lato", "fontWeight": "normal", "fontSize": 39, "color": "#000"},
      "encoding": {"text": {"field": "t"}}
    }
  ]
}
